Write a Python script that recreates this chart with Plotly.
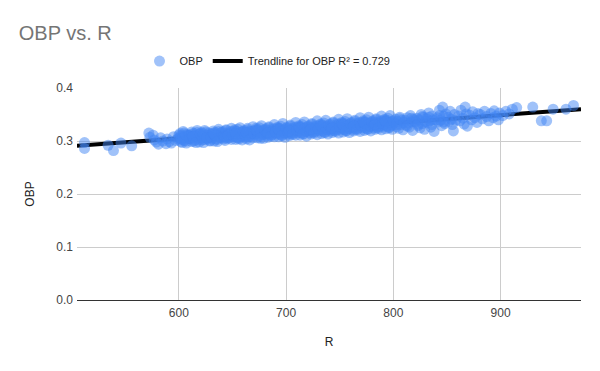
import numpy as np
import plotly.graph_objects as go

# Runs (R) and on-base percentage (OBP)
R = [512, 512, 534, 539, 546, 556,
     572, 573, 576, 577, 579, 581, 583, 585, 588, 589, 591, 593, 595, 597, 599,
     600, 601, 602, 602, 603, 604, 605, 606, 607, 608, 609, 609,
     610, 611, 612, 612, 613, 614, 615, 616, 617, 618, 619, 619,
     620, 621, 622, 622, 623, 624, 625, 626, 627, 628, 629, 629,
     630, 631, 632, 632, 633, 634, 635, 636, 637, 638, 639, 639,
     640, 641, 642, 642, 643, 644, 645, 646, 647, 648, 649, 649,
     650, 651, 652, 652, 653, 654, 655, 656, 657, 658, 659, 659,
     660, 661, 662, 662, 663, 664, 665, 666, 667, 668, 669, 669,
     670, 671, 672, 672, 673, 674, 675, 676, 677, 678, 679, 679,
     680, 681, 682, 682, 683, 684, 685, 686, 687, 688, 689, 689,
     690, 691, 692, 692, 693, 694, 695, 696, 697, 698, 699, 699,
     700, 701, 702, 702, 703, 704, 705, 706, 707, 708, 709, 709,
     710, 711, 712, 712, 713, 714, 715, 716, 717, 718, 719, 719,
     720, 721, 722, 722, 723, 724, 725, 726, 727, 728, 729, 729,
     730, 731, 732, 732, 733, 734, 735, 736, 737, 738, 739, 739,
     740, 741, 742, 742, 743, 744, 745, 746, 747, 748, 749, 749,
     750, 751, 752, 752, 753, 754, 755, 756, 757, 758, 759, 759,
     760, 761, 762, 762, 763, 764, 765, 766, 767, 768, 769, 769,
     770, 771, 772, 772, 773, 774, 775, 776, 777, 778, 779, 779,
     780, 781, 782, 782, 783, 784, 785, 786, 787, 788, 789, 789,
     790, 791, 792, 792, 793, 794, 795, 796, 797, 798, 799, 799,
     801, 802, 803, 804, 805, 806, 807, 808, 809,
     811, 812, 813, 814, 815, 816, 817, 818, 819,
     821, 822, 823, 824, 825, 826, 827, 828, 829,
     831, 832, 833, 834, 835, 836, 837, 838,
     841, 842, 843, 844, 845, 846, 847, 848, 849,
     851, 852, 853, 854, 855, 856, 857, 858,
     861, 862, 863, 865, 866, 867, 868, 869,
     871, 873, 874, 876, 878, 879,
     881, 883, 885, 887, 889,
     891, 893, 894, 896, 898, 899,
     902, 905, 908, 911, 915, 930, 938, 943, 949, 961, 968]

OBP = [0.297, 0.286, 0.292, 0.282, 0.296, 0.291,
       0.315, 0.307, 0.311, 0.302, 0.298, 0.294, 0.306, 0.300, 0.295, 0.304, 0.299, 0.296, 0.308, 0.301, 0.304,
       0.306, 0.314, 0.299, 0.310, 0.303, 0.318, 0.301, 0.308, 0.296, 0.312, 0.305, 0.309,
       0.311, 0.304, 0.317, 0.299, 0.308, 0.314, 0.302, 0.309, 0.320, 0.306, 0.298, 0.313,
       0.309, 0.316, 0.302, 0.312, 0.297, 0.320, 0.306, 0.311, 0.304, 0.315, 0.300, 0.308,
       0.313, 0.305, 0.319, 0.309, 0.300, 0.316, 0.311, 0.303, 0.322, 0.307, 0.314, 0.310,
       0.310, 0.318, 0.304, 0.314, 0.301, 0.321, 0.308, 0.315, 0.306, 0.312, 0.324, 0.303,
       0.316, 0.308, 0.321, 0.311, 0.303, 0.318, 0.313, 0.306, 0.325, 0.310, 0.317, 0.302,
       0.313, 0.320, 0.307, 0.317, 0.304, 0.324, 0.311, 0.318, 0.309, 0.315, 0.327, 0.306,
       0.319, 0.311, 0.324, 0.314, 0.306, 0.321, 0.316, 0.309, 0.329, 0.313, 0.320, 0.305,
       0.316, 0.323, 0.310, 0.320, 0.307, 0.327, 0.314, 0.321, 0.312, 0.318, 0.331, 0.308,
       0.321, 0.313, 0.326, 0.316, 0.308, 0.324, 0.319, 0.311, 0.333, 0.315, 0.322, 0.307,
       0.319, 0.326, 0.313, 0.323, 0.310, 0.330, 0.317, 0.324, 0.315, 0.321, 0.335, 0.311,
       0.324, 0.316, 0.329, 0.319, 0.311, 0.327, 0.322, 0.314, 0.336, 0.318, 0.325, 0.309,
       0.322, 0.329, 0.316, 0.326, 0.313, 0.333, 0.320, 0.327, 0.318, 0.324, 0.338, 0.312,
       0.327, 0.319, 0.332, 0.322, 0.314, 0.330, 0.325, 0.317, 0.339, 0.321, 0.328, 0.313,
       0.325, 0.332, 0.319, 0.329, 0.316, 0.336, 0.323, 0.330, 0.321, 0.327, 0.341, 0.315,
       0.330, 0.322, 0.335, 0.325, 0.317, 0.333, 0.328, 0.320, 0.342, 0.324, 0.331, 0.316,
       0.328, 0.335, 0.322, 0.332, 0.319, 0.339, 0.326, 0.333, 0.324, 0.330, 0.344, 0.318,
       0.333, 0.325, 0.338, 0.328, 0.320, 0.336, 0.331, 0.323, 0.345, 0.327, 0.334, 0.319,
       0.331, 0.338, 0.325, 0.335, 0.322, 0.342, 0.329, 0.336, 0.327, 0.333, 0.347, 0.321,
       0.336, 0.328, 0.341, 0.331, 0.323, 0.339, 0.334, 0.326, 0.348, 0.330, 0.337, 0.322,
       0.334, 0.341, 0.327, 0.337, 0.324, 0.345, 0.331, 0.339, 0.321,
       0.339, 0.330, 0.344, 0.334, 0.326, 0.348, 0.336, 0.320, 0.341,
       0.336, 0.343, 0.329, 0.340, 0.325, 0.350, 0.333, 0.345, 0.322,
       0.342, 0.334, 0.353, 0.338, 0.326, 0.347, 0.340, 0.318,
       0.344, 0.336, 0.358, 0.339, 0.329, 0.364, 0.347, 0.333, 0.351,
       0.345, 0.337, 0.356, 0.341, 0.331, 0.319, 0.350, 0.339,
       0.347, 0.338, 0.358, 0.343, 0.332, 0.364, 0.351, 0.328,
       0.349, 0.340, 0.355, 0.344, 0.335, 0.352,
       0.350, 0.342, 0.356, 0.346, 0.338,
       0.352, 0.344, 0.357, 0.347, 0.340, 0.353,
       0.348, 0.356, 0.351, 0.360, 0.363, 0.364, 0.338, 0.338, 0.360, 0.360, 0.367]

# more team-seasons in the dense middle of the cloud
R_MORE = [600, 602, 604, 605, 607, 609, 603, 606,
          610, 612, 614, 615, 617, 619, 613, 616,
          620, 622, 624, 625, 627, 629, 623, 626,
          630, 632, 634, 635, 637, 639, 633, 636,
          640, 642, 644, 645, 647, 649, 643, 646,
          650, 652, 654, 655, 657, 659, 653, 656,
          660, 662, 664, 665, 667, 669, 663, 666,
          670, 672, 674, 675, 677, 679, 673, 676,
          680, 682, 684, 685, 687, 689, 683, 686,
          690, 692, 694, 695, 697, 699, 693, 696,
          700, 702, 704, 705, 707, 709, 703, 706,
          710, 712, 714, 715, 717, 719, 713, 716,
          720, 722, 724, 725, 727, 729, 723, 726,
          730, 732, 734, 735, 737, 739, 733, 736,
          740, 742, 744, 745, 747, 749, 743, 746,
          750, 752, 754, 755, 757, 759, 753, 756,
          760, 762, 764, 765, 767, 769, 763, 766,
          770, 772, 774, 775, 777, 779, 773, 776,
          780, 782, 784, 785, 787, 789, 783, 786,
          790, 792, 794, 795, 797, 799, 793, 796,
          800, 803, 806, 810, 813, 817, 820, 823, 827, 830, 833, 836, 840, 843, 847]

OBP_MORE = [0.311, 0.304, 0.307, 0.315, 0.300, 0.310, 0.297, 0.312,
            0.305, 0.313, 0.300, 0.310, 0.316, 0.303, 0.308, 0.297,
            0.313, 0.307, 0.303, 0.317, 0.310, 0.301, 0.314, 0.306,
            0.307, 0.315, 0.311, 0.304, 0.318, 0.306, 0.313, 0.299,
            0.316, 0.309, 0.320, 0.305, 0.313, 0.318, 0.307, 0.311,
            0.311, 0.319, 0.307, 0.322, 0.315, 0.309, 0.314, 0.304,
            0.318, 0.311, 0.321, 0.308, 0.314, 0.319, 0.316, 0.302,
            0.314, 0.321, 0.310, 0.325, 0.317, 0.312, 0.319, 0.305,
            0.321, 0.314, 0.325, 0.311, 0.318, 0.323, 0.316, 0.309,
            0.317, 0.324, 0.313, 0.328, 0.320, 0.315, 0.322, 0.310,
            0.324, 0.317, 0.328, 0.314, 0.321, 0.326, 0.319, 0.312,
            0.320, 0.327, 0.316, 0.331, 0.323, 0.318, 0.325, 0.313,
            0.327, 0.320, 0.331, 0.317, 0.324, 0.329, 0.322, 0.315,
            0.323, 0.330, 0.319, 0.334, 0.326, 0.321, 0.328, 0.316,
            0.330, 0.323, 0.334, 0.320, 0.327, 0.332, 0.325, 0.318,
            0.326, 0.333, 0.322, 0.337, 0.329, 0.324, 0.331, 0.319,
            0.333, 0.326, 0.337, 0.323, 0.330, 0.335, 0.328, 0.321,
            0.329, 0.336, 0.325, 0.340, 0.332, 0.327, 0.334, 0.322,
            0.336, 0.329, 0.340, 0.326, 0.333, 0.338, 0.331, 0.324,
            0.332, 0.339, 0.328, 0.343, 0.335, 0.330, 0.337, 0.325,
            0.338, 0.331, 0.342, 0.335, 0.328, 0.343, 0.338, 0.332, 0.346, 0.337, 0.345, 0.331, 0.340, 0.348, 0.336]

X_RANGE = [505, 975]
Y_RANGE = [0, 0.4]
Y_TICKS = [0.0, 0.1, 0.2, 0.3, 0.4]
X_TICKS = [600, 700, 800, 900]
R2_LABEL = "Trendline for OBP R² = 0.729"

all_r = R + R_MORE
all_obp = OBP + OBP_MORE
slope, intercept = np.polyfit(all_r, all_obp, 1)
trend_x = np.array(X_RANGE, dtype=float)
trend_y = slope * trend_x + intercept

FONT = "Liberation Sans, Arial, sans-serif"

fig = go.Figure()
# trendline drawn first so the points sit on top of it, as in the reference
fig.add_trace(go.Scatter(
    x=trend_x, y=trend_y, mode="lines", name=R2_LABEL, legendrank=2,
    line=dict(color="#000000", width=4),
))
fig.add_trace(go.Scatter(
    x=all_r, y=all_obp, mode="markers", name="OBP", legendrank=1,
    marker=dict(color="#4285F4", size=11, opacity=0.5, line=dict(width=0)),
))

# page body adds an 8px offset, so the figure is 592x363 to fit the 600x371 window
fig.update_layout(
    width=592, height=363,
    paper_bgcolor="white", plot_bgcolor="white",
    margin=dict(l=69, r=19, t=80, b=71, autoexpand=False),
    font=dict(family=FONT, size=12, color="#222222"),
    title=dict(text="OBP vs. R", x=0.0182, xanchor="left", y=0.931, yanchor="middle",
               font=dict(family=FONT, size=20, color="#757575")),
    legend=dict(orientation="h", x=0.124, xanchor="left", y=1.127, yanchor="middle",
                font=dict(family=FONT, size=11, color="#222222"),
                itemwidth=30, bgcolor="rgba(0,0,0,0)", traceorder="normal"),
    showlegend=True,
)
fig.update_xaxes(
    range=X_RANGE, tickvals=X_TICKS, showgrid=True, gridcolor="#cccccc", gridwidth=1,
    zeroline=False, showline=False, ticks="", automargin=False, ticklabelstandoff=4,
    tickfont=dict(size=12, color="#444444"),
    title=dict(text="R", font=dict(size=12, color="#222222"), standoff=18),
)
fig.update_yaxes(
    range=Y_RANGE, tickvals=Y_TICKS, tickformat=".1f", showgrid=True, gridcolor="#cccccc",
    gridwidth=1, zeroline=True, zerolinecolor="#333333", zerolinewidth=1, showline=False,
    ticks="", automargin=False, ticklabelstandoff=3, tickfont=dict(size=12, color="#444444"),
    title=dict(text="OBP", font=dict(size=12, color="#222222"), standoff=19),
)

fig.write_html("out.html")
